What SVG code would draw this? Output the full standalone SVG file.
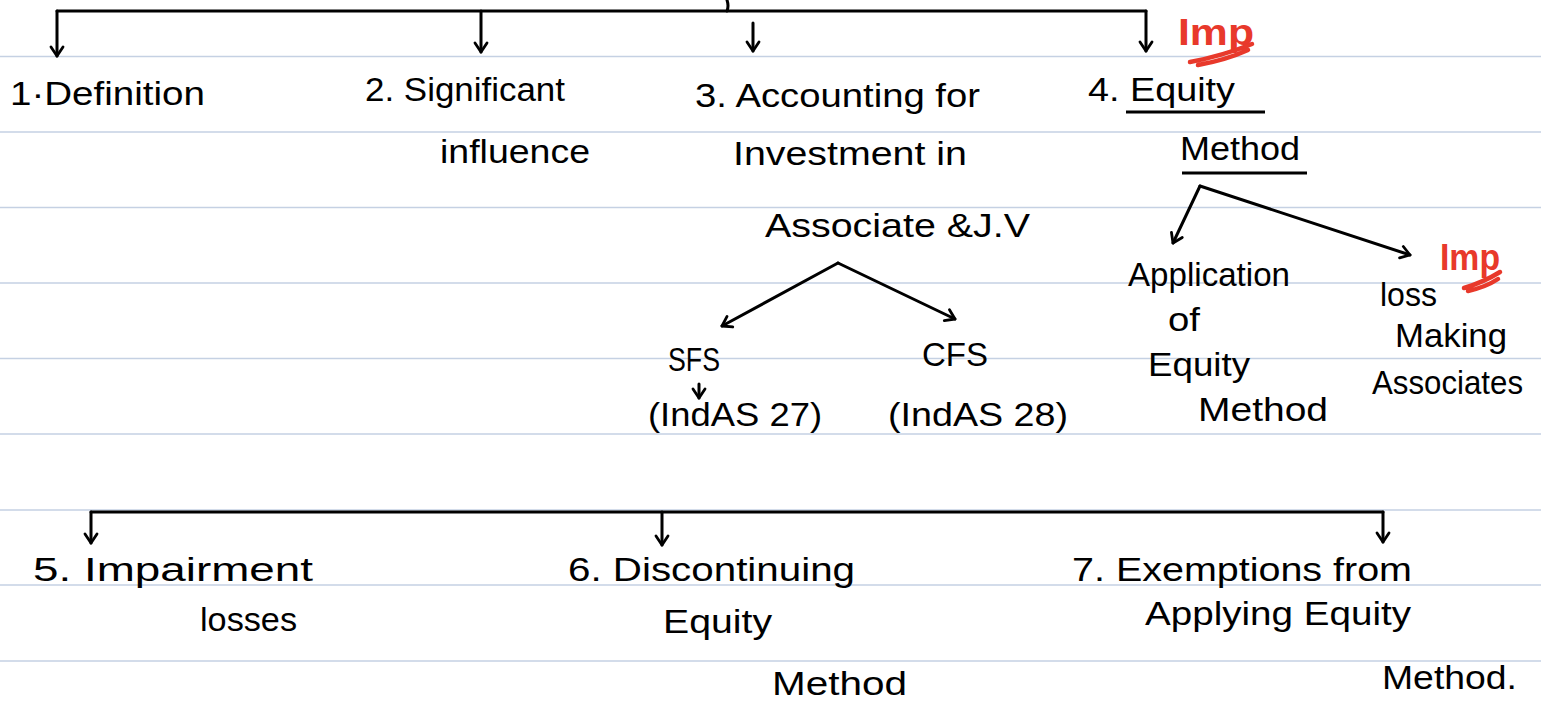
<svg xmlns="http://www.w3.org/2000/svg" width="1541" height="709" viewBox="0 0 1541 709">
<style>
.rule{stroke:#c5d1e3;stroke-width:1.6;fill:none}
.c{stroke:#000;stroke-width:3;fill:none;stroke-linecap:round;stroke-linejoin:round}
.t{font-family:"Liberation Sans",Arial,sans-serif;font-size:34px;fill:#000}
.r{font-family:"Liberation Sans",Arial,sans-serif;font-size:36px;font-weight:bold;fill:#e8392b}
.rs{stroke:#e8392b;stroke-width:4.5;fill:none;stroke-linecap:round;stroke-linejoin:round}
.u{stroke:#000;stroke-width:3;fill:none}
</style>
<defs>
<marker id="ah" markerUnits="userSpaceOnUse" markerWidth="18" markerHeight="18" viewBox="0 0 18 18" refX="15" refY="9" orient="auto">
<path d="M6,3 L15,9 L6,15" stroke="#000" stroke-width="2.8" fill="none" stroke-linecap="round" stroke-linejoin="round"/>
</marker>
</defs>
<rect width="1541" height="709" fill="#fff"/>
<g id="rules">
<line class="rule" x1="0" y1="56.5" x2="1541" y2="56.5"/>
<line class="rule" x1="0" y1="132" x2="1541" y2="132"/>
<line class="rule" x1="0" y1="207.5" x2="1541" y2="207.5"/>
<line class="rule" x1="0" y1="283" x2="1541" y2="283"/>
<line class="rule" x1="0" y1="358.5" x2="1541" y2="358.5"/>
<line class="rule" x1="0" y1="434" x2="1541" y2="434"/>
<line class="rule" x1="0" y1="510" x2="1541" y2="510"/>
<line class="rule" x1="0" y1="585" x2="1541" y2="585"/>
<line class="rule" x1="0" y1="661" x2="1541" y2="661"/>
</g>
<g id="connectors">
<path class="c" d="M727,0 Q729,6 727,11"/>
<path class="c" d="M57,11 H1146"/>
<path class="c" d="M57,11 V56" marker-end="url(#ah)"/>
<path class="c" d="M481,11 V52" marker-end="url(#ah)"/>
<path class="c" d="M1146,11 V51" marker-end="url(#ah)"/>
<path class="c" d="M753,23 V51" marker-end="url(#ah)"/>
<path class="c" d="M838,263 L722,326" marker-end="url(#ah)"/>
<path class="c" d="M838,263 L955,319" marker-end="url(#ah)"/>
<path class="c" d="M1200,186 L1173,243" marker-end="url(#ah)"/>
<path class="c" d="M1200,186 L1410,255" marker-end="url(#ah)"/>
<path class="c" d="M699,384 V398" marker-end="url(#ah)"/>
<path class="c" d="M91,512 H1383"/>
<path class="c" d="M91,512 V543" marker-end="url(#ah)"/>
<path class="c" d="M662,512 V545" marker-end="url(#ah)"/>
<path class="c" d="M1383,512 V542" marker-end="url(#ah)"/>
</g>
<g id="n1"><text class="t" x="10" y="105" textLength="195" lengthAdjust="spacingAndGlyphs">1·Definition</text></g>
<g id="n2">
<text class="t" x="365" y="101" textLength="200" lengthAdjust="spacingAndGlyphs">2. Significant</text>
<text class="t" x="440" y="163" textLength="150" lengthAdjust="spacingAndGlyphs">influence</text>
</g>
<g id="n3">
<text class="t" x="695" y="107" textLength="285" lengthAdjust="spacingAndGlyphs">3. Accounting for</text>
<text class="t" x="733" y="165" textLength="234" lengthAdjust="spacingAndGlyphs">Investment in</text>
<text class="t" x="765" y="237" textLength="265" lengthAdjust="spacingAndGlyphs">Associate &amp;J.V</text>
</g>
<g id="n4">
<text class="t" x="1088" y="101" textLength="147" lengthAdjust="spacingAndGlyphs">4. Equity</text>
<line class="u" x1="1126" y1="112" x2="1265" y2="112"/>
<text class="t" x="1180" y="160" textLength="120" lengthAdjust="spacingAndGlyphs">Method</text>
<line class="u" x1="1182" y1="173" x2="1307" y2="173"/>
</g>
<g id="imp1">
<text class="r" x="1178" y="45" textLength="76" lengthAdjust="spacingAndGlyphs">Imp</text>
<path class="rs" d="M1190,62 Q1222,56 1252,44 M1198,65 Q1226,60 1248,50"/>
</g>
<g id="sfs">
<text class="t" x="668" y="371" textLength="52" lengthAdjust="spacingAndGlyphs">SFS</text>
<text class="t" x="648" y="426" textLength="174" lengthAdjust="spacingAndGlyphs">(IndAS 27)</text>
</g>
<g id="cfs">
<text class="t" x="922" y="366" textLength="66" lengthAdjust="spacingAndGlyphs">CFS</text>
<text class="t" x="888" y="426" textLength="180" lengthAdjust="spacingAndGlyphs">(IndAS 28)</text>
</g>
<g id="app">
<text class="t" x="1128" y="286" textLength="162" lengthAdjust="spacingAndGlyphs">Application</text>
<text class="t" x="1168" y="331" textLength="32" lengthAdjust="spacingAndGlyphs">of</text>
<text class="t" x="1148" y="376" textLength="102" lengthAdjust="spacingAndGlyphs">Equity</text>
<text class="t" x="1198" y="421" textLength="130" lengthAdjust="spacingAndGlyphs">Method</text>
</g>
<g id="loss">
<text class="t" x="1380" y="306" textLength="57" lengthAdjust="spacingAndGlyphs">loss</text>
<text class="t" x="1395" y="347" textLength="112" lengthAdjust="spacingAndGlyphs">Making</text>
<text class="t" x="1372" y="394" textLength="151" lengthAdjust="spacingAndGlyphs">Associates</text>
</g>
<g id="imp2">
<text class="r" x="1440" y="270" textLength="60" lengthAdjust="spacingAndGlyphs">Imp</text>
<path class="rs" d="M1464,288 Q1484,282 1500,272 M1468,291 Q1486,287 1498,279"/>
</g>
<g id="n5">
<text class="t" x="33" y="581" textLength="280" lengthAdjust="spacingAndGlyphs">5. Impairment</text>
<text class="t" x="200" y="631" textLength="97" lengthAdjust="spacingAndGlyphs">losses</text>
</g>
<g id="n6">
<text class="t" x="568" y="581" textLength="287" lengthAdjust="spacingAndGlyphs">6. Discontinuing</text>
<text class="t" x="663" y="633" textLength="109" lengthAdjust="spacingAndGlyphs">Equity</text>
<text class="t" x="772" y="695" textLength="135" lengthAdjust="spacingAndGlyphs">Method</text>
</g>
<g id="n7">
<text class="t" x="1072" y="581" textLength="340" lengthAdjust="spacingAndGlyphs">7. Exemptions from</text>
<text class="t" x="1145" y="625" textLength="266" lengthAdjust="spacingAndGlyphs">Applying Equity</text>
<text class="t" x="1382" y="689" textLength="135" lengthAdjust="spacingAndGlyphs">Method.</text>
</g>
</svg>
